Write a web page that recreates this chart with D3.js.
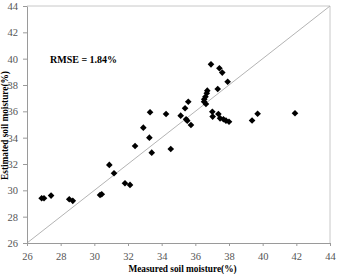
<!DOCTYPE html>
<html>
<head>
<meta charset="utf-8">
<script src="https://cdn.jsdelivr.net/npm/d3@7"></script>
<style>
  html, body { margin: 0; padding: 0; background: #fff; }
  svg { display: block; font-family: "Liberation Serif", "Times New Roman", serif; }
</style>
</head>
<body>
<svg id="chart"></svg>
<script>
// Measured vs estimated soil moisture (%)
const measured = [
  26.87, 27.01, 27.43, 28.51, 28.72, 30.34, 30.44, 30.89, 31.17, 31.82,
  32.12, 32.42, 32.91, 33.27, 33.41, 33.31, 34.26, 34.54, 35.13, 35.39,
  35.58, 35.45, 35.52, 35.74, 36.93, 37.43, 37.6, 37.92, 37.33, 36.71,
  36.68, 36.6, 36.53, 36.52, 36.63, 37.01, 37.03, 37.37, 37.47, 37.67,
  37.82, 38.0, 39.37, 39.7, 41.92
];
const estimated = [
  29.4, 29.4, 29.6, 29.32, 29.2, 29.65, 29.7, 31.93, 31.3, 30.54,
  30.41, 33.37, 34.76, 34.0, 32.86, 35.93, 35.8, 33.14, 35.67, 36.23,
  36.73, 35.4, 35.29, 34.96, 39.57, 39.27, 38.94, 38.25, 37.7, 37.57,
  37.37, 37.11, 36.92, 36.73, 36.56, 35.97, 35.6, 35.8, 35.47, 35.4,
  35.29, 35.21, 35.3, 35.82, 35.85
];
const axisTicks = [26, 28, 30, 32, 34, 36, 38, 40, 42, 44];
const axisRange = [26, 44];
const rmseLabel = 'RMSE = 1.84%';
const xTitle = 'Measured soil moisture(%)';
const yTitle = 'Estimated soil moisture(%)';

const width = 339;
const height = 274;
const plot = { left: 27, right: 330, top: 6, bottom: 243 };

const svg = d3.select('#chart')
  .attr('width', width)
  .attr('height', height);

svg.append('rect')
  .attr('width', width)
  .attr('height', height)
  .attr('fill', '#fff');

const x = d3.scaleLinear().domain(axisRange).range([plot.left, plot.right]);
const y = d3.scaleLinear().domain(axisRange).range([plot.bottom, plot.top]);

// light frame on top and right
svg.append('path')
  .attr('d', `M${plot.left},${plot.top}H${plot.right}V${plot.bottom}`)
  .attr('fill', 'none')
  .attr('stroke', '#c8c8c8')
  .attr('stroke-width', 1);

// 1:1 line
svg.append('line')
  .attr('x1', x(axisRange[0]))
  .attr('y1', y(axisRange[0]))
  .attr('x2', x(axisRange[1]))
  .attr('y2', y(axisRange[1]))
  .attr('stroke', '#b4b4b4')
  .attr('stroke-width', 1);

const xAxis = svg.append('g')
  .attr('transform', `translate(0,${plot.bottom})`)
  .call(d3.axisBottom(x).tickValues(axisTicks).tickSize(3).tickPadding(7).tickSizeOuter(0));

const yAxis = svg.append('g')
  .attr('transform', `translate(${plot.left},0)`)
  .call(d3.axisLeft(y).tickValues(axisTicks).tickSize(4).tickPadding(5).tickSizeOuter(0));

[xAxis, yAxis].forEach((g) => {
  g.select('.domain').attr('stroke', '#9a9a9a');
  g.selectAll('.tick line').attr('stroke', '#9a9a9a');
  g.selectAll('.tick text')
    .attr('fill', '#555')
    .style('font-family', '"Liberation Serif", serif')
    .style('font-size', '10.5px');
});

// points
const points = measured.map((m, i) => ({ m, e: estimated[i] }));
svg.append('g')
  .selectAll('path')
  .data(points)
  .join('path')
  .attr('d', d3.symbol(d3.symbolSquare, 22))
  .attr('transform', (d) => `translate(${x(d.m)},${y(d.e)}) rotate(45)`)
  .attr('fill', '#000');

// RMSE annotation
svg.append('text')
  .attr('x', 50)
  .attr('y', 63)
  .attr('font-size', 10)
  .attr('font-weight', 'bold')
  .text(rmseLabel);

// axis titles
svg.append('text')
  .attr('x', (plot.left + plot.right) / 2 + 4)
  .attr('y', 272)
  .attr('text-anchor', 'middle')
  .attr('font-size', 9.3)
  .attr('font-weight', 'bold')
  .text(xTitle);

svg.append('text')
  .attr('transform', `translate(7.5,${(plot.top + plot.bottom) / 2 + 1}) rotate(-90)`)
  .attr('text-anchor', 'middle')
  .attr('font-size', 9.3)
  .attr('font-weight', 'bold')
  .text(yTitle);
</script>
</body>
</html>
